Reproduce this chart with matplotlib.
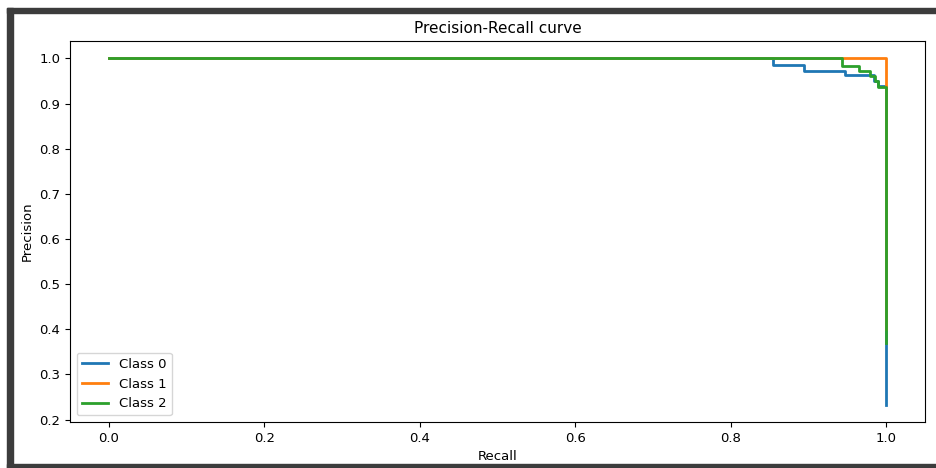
import matplotlib
matplotlib.use("Agg")
import matplotlib.pyplot as plt
from matplotlib.patches import Rectangle

# step points of each class (recall ascending, precision after the step)
recall_0 = [0.0, 0.855, 0.894, 0.947, 0.985, 0.990, 1.0]
precision_0 = [1.0, 0.986, 0.972, 0.963, 0.950, 0.940, 0.233]

recall_1 = [0.0, 1.0, 1.0]
precision_1 = [1.0, 0.930, 0.40]

recall_2 = [0.0, 0.943, 0.965, 0.980, 0.986, 0.990, 1.0]
precision_2 = [1.0, 0.983, 0.972, 0.961, 0.950, 0.936, 0.37]

labels = ["Class 0", "Class 1", "Class 2"]

plt.rcParams["font.family"] = ["DejaVu Sans Condensed", "Liberation Sans Narrow", "DejaVu Sans"]

fig = plt.figure(figsize=(9.36, 4.68), dpi=100)
ax = fig.add_axes([0.0748, 0.0983, 0.9132, 0.8137])

ax.step(recall_0, precision_0, where="post", color="#1f77b4", lw=2, label=labels[0])
ax.step(recall_1, precision_1, where="post", color="#ff7f0e", lw=2, label=labels[1])
ax.step(recall_2, precision_2, where="post", color="#2ca02c", lw=2, label=labels[2])

ax.set_title("Precision-Recall curve", fontsize=11)
ax.set_xlabel("Recall", fontsize=9.5)
ax.set_ylabel("Precision", fontsize=9.5)
ax.tick_params(labelsize=9.5)
ax.legend(loc="lower left", fontsize=9.5)

# dark screenshot frame
frame = "#3c3c3c"
fig.patches.append(Rectangle((7 / 936, 1 - 13 / 468), 1, 5 / 468, transform=fig.transFigure, color=frame))
fig.patches.append(Rectangle((7 / 936, 0), 6 / 936, 1 - 8 / 468, transform=fig.transFigure, color=frame))
fig.patches.append(Rectangle((7 / 936, 0), 1, 4 / 468, transform=fig.transFigure, color=frame))

fig.savefig("out.png", dpi=100)
